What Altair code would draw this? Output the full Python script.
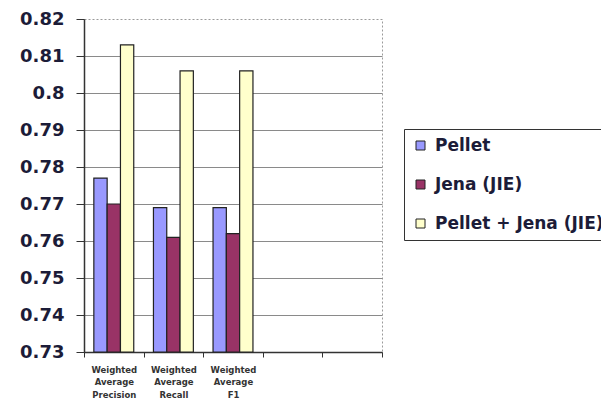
import altair as alt
import pandas as pd

categories = ["Weighted Average Precision", "Weighted Average Recall", "Weighted Average F1", " ", "  "]
metrics = ["Weighted Average Precision", "Weighted Average Recall", "Weighted Average F1"]
series = ["Pellet", "Jena (JIE)", "Pellet + Jena (JIE)"]
pellet = [0.777, 0.769, 0.769]
jena = [0.770, 0.761, 0.762]
combined = [0.813, 0.806, 0.806]
y_ticks = [0.73, 0.74, 0.75, 0.76, 0.77, 0.78, 0.79, 0.80, 0.81, 0.82]
colors = ["#9999FF", "#993366", "#FFFFCC"]

rows = []
for name, vals in zip(series, [pellet, jena, combined]):
    for m, v in zip(metrics, vals):
        rows.append({"metric": m, "series": name, "value": v})
df = pd.DataFrame(rows)

TXT = "#1c1c38"

chart = alt.Chart(df).mark_bar(stroke="#222222", strokeWidth=1.2).encode(
    x=alt.X("metric:N", scale=alt.Scale(domain=categories, paddingInner=0, paddingOuter=0),
            axis=alt.Axis(title=None, labelAngle=0, tickBand="extent",
                          labelExpr="split(datum.label, ' ')",
                          labelFont="DejaVu Sans", labelFontWeight="bold", labelFontSize=8.5,
                          labelLineHeight=12.5, labelColor="#333333", labelPadding=8,
                          labelLimit=300, labelAlign="center", labelOverlap=False,
                          tickSize=5, tickColor="#333333", domainColor="#333333",
                          domainWidth=1.5, grid=False)),
    xOffset=alt.XOffset("series:N", sort=series,
                        scale=alt.Scale(domain=series, paddingInner=0, paddingOuter=0.74)),
    y=alt.Y("value:Q", scale=alt.Scale(domain=[0.73, 0.82], zero=False, nice=False, clamp=True),
            axis=alt.Axis(title=None, values=y_ticks, format=".2~f",
                          labelFont="DejaVu Sans", labelFontWeight="bold", labelFontSize=18,
                          labelColor=TXT, labelPadding=12, tickSize=8, tickColor="#333333",
                          domainColor="#333333", domainWidth=1.5,
                          gridColor="#8a8a8a", gridWidth=1,
                          gridOpacity=alt.condition("datum.value > 0.8195", alt.value(0), alt.value(1)))),
    color=alt.Color("series:N", sort=series,
                    scale=alt.Scale(domain=series, range=colors),
                    legend=alt.Legend(title=None, orient="none", legendX=320, legendY=110,
                                      symbolType="square", symbolSize=81,
                                      symbolStrokeColor="#222222", symbolStrokeWidth=1,
                                      labelFont="DejaVu Sans", labelFontWeight="bold",
                                      labelFontSize=17, labelColor=TXT, labelLimit=400,
                                      labelOffset=6, rowPadding=21, padding=8,
                                      strokeColor="#333333", fillColor="white")),
).properties(
    width=298, height=333,
    autosize=alt.AutoSizeParams(type="none"),
    padding={"left": 76, "top": 11, "right": 219, "bottom": 49},
).configure_view(
    stroke="#9a9a9a", strokeDash=[2, 2], strokeWidth=1
)

chart.save("out.html", embed_options={"renderer": "svg", "actions": False})
